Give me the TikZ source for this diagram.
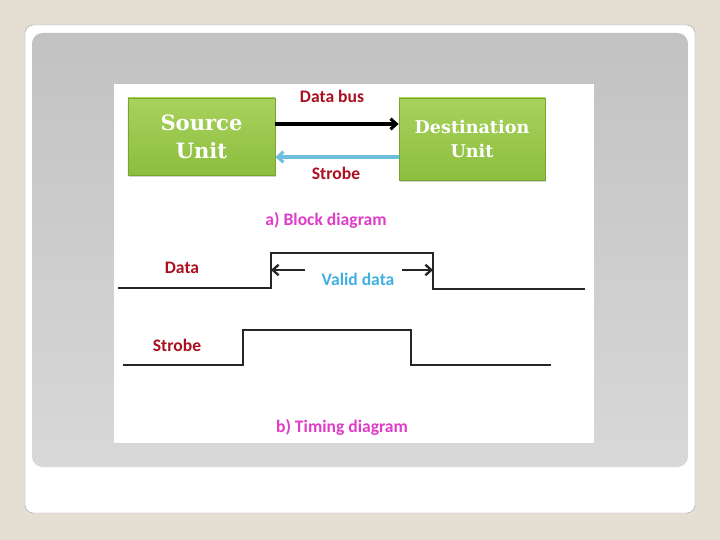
\documentclass[tikz,border=0pt]{standalone}
\usepackage{fontspec}
\setmainfont{Carlito}
\newfontfamily\unitfont{DejaVu Serif}
\usetikzlibrary{arrows.meta,shadows}
\definecolor{slideBeige}{RGB}{228,222,211}
\definecolor{panelTop}{RGB}{194,194,194}
\definecolor{panelBottom}{RGB}{216,216,216}
\definecolor{unitTop}{RGB}{168,210,92}
\definecolor{unitBottom}{RGB}{140,190,62}
\definecolor{unitEdge}{RGB}{120,165,50}
\definecolor{labelRed}{RGB}{170,16,32}
\definecolor{capMagenta}{RGB}{224,60,200}
\definecolor{strobeBlue}{RGB}{110,190,222}
\definecolor{validBlue}{RGB}{64,176,224}

\tikzset{
  unitbox/.style={draw=unitEdge, line width=0.6pt, top color=unitTop, bottom color=unitBottom,
    drop shadow={shadow xshift=1.2pt, shadow yshift=-1.5pt, opacity=0.35},
    text=white, align=center, font=\unitfont\bfseries},
  lbl/.style={font=\fontsize{15}{17}\selectfont\bfseries, text=labelRed},
  caption/.style={font=\fontsize{15}{17}\selectfont\bfseries, text=capMagenta},
  wave/.style={line width=2.3pt, black!85, line join=miter},
  tip/.style={-{Straight Barb[length=5pt,width=9pt]}, line width=2pt},
}

\begin{document}
\begin{tikzpicture}[x=0.03cm,y=-0.03cm]
    % slide frame
    \fill[slideBeige] (0,0) rectangle (720,540);
    \useasboundingbox (0,0) rectangle (720,540);
    \draw[gray!70, fill=white, rounded corners=7] (25,25) rectangle (695,513);
    \shade[top color=panelTop, bottom color=panelBottom, rounded corners=9] (32,33) rectangle (688,467);
    \fill[white] (114,84) rectangle (594,443);

    % a) block diagram
    \node[unitbox, minimum width=4.41cm, minimum height=2.31cm, font=\unitfont\bfseries\fontsize{18}{24}\selectfont]
        (src) at (201.5,136.5) {Source\\Unit};
    \node[unitbox, minimum width=4.38cm, minimum height=2.46cm, font=\unitfont\bfseries\fontsize{15}{20}\selectfont]
        (dst) at (472,139) {Destination\\Unit};

    \coordinate (busy) at (330,124);
    \coordinate (stby) at (330,157);
    \draw[tip, black, line width=2.6pt] (src.east |- busy) -- (dst.west |- busy);
    \draw[tip, strobeBlue, line width=2.6pt] (dst.west |- stby) -- (src.east |- stby);

    \node[lbl] (buslbl) at (332,96) {Data bus};
    \node[lbl] (stblbl) at (336,173) {Strobe};
    \node[caption] (capa) at (326,220) {a) Block diagram};

    % b) timing diagram
    \coordinate (drise) at (271,253);
    \coordinate (dfall) at (433,253);
    \draw[wave] (118,288) -- (drise |- 0,288) -- (drise) -- (dfall) -- (dfall |- 0,289) -- (585,289);
    \node[lbl] (datalbl) at (182,268) {Data};

    \coordinate (vdl) at (305,270);
    \coordinate (vdr) at (402,270);
    \draw[tip, black!85] (vdl) -- (vdl -| drise);
    \draw[tip, black!85] (vdr) -- (vdr -| dfall);
    \node[lbl, text=validBlue] (validlbl) at (358,279) {Valid data};

    \coordinate (srise) at (243,330);
    \coordinate (sfall) at (411,330);
    \draw[wave] (123,365) -- (srise |- 0,365) -- (srise) -- (sfall) -- (sfall |- 0,365) -- (551,365);
    \node[lbl] (strlbl) at (177,345) {Strobe};

    \node[caption] (capb) at (342,427) {b) Timing diagram};
\end{tikzpicture}
\end{document}
